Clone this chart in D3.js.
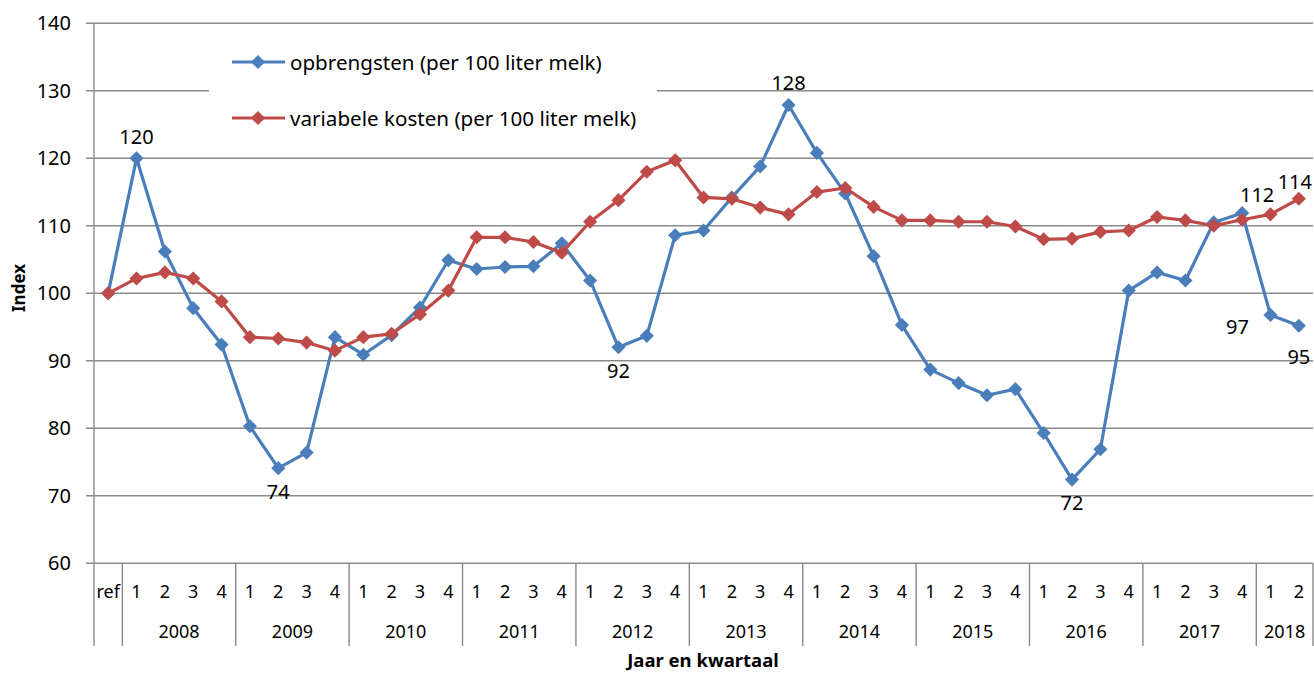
<!DOCTYPE html>
<html lang="nl">
<head>
<meta charset="utf-8">
<title>Opbrengsten en variabele kosten melk</title>
<script src="https://cdn.jsdelivr.net/npm/d3@7"></script>
<style>
  body { margin: 0; background: #fff; }
  svg text { font-family: "Noto Sans", "Open Sans", sans-serif; fill: #000; }
</style>
</head>
<body>
<script>
// ---- data ----
let years = ["2008", "2009", "2010", "2011", "2012", "2013", "2014", "2015", "2016", "2017", "2018"];
let quartersPerYear = [4, 4, 4, 4, 4, 4, 4, 4, 4, 4, 2];
let yTicks = [60, 70, 80, 90, 100, 110, 120, 130, 140];

let opbrengsten = [100,
  120, 106.2, 97.8, 92.4,
  80.3, 74.1, 76.4, 93.5,
  90.9, 93.8, 97.9, 104.9,
  103.6, 103.9, 104.0, 107.4,
  101.9, 92.0, 93.7, 108.6,
  109.3, 114.2, 118.8, 127.9,
  120.8, 114.8, 105.5, 95.3,
  88.7, 86.7, 84.9, 85.8,
  79.3, 72.4, 76.9, 100.4,
  103.1, 101.9, 110.5, 111.9,
  96.8, 95.2];

let kosten = [100,
  102.2, 103.1, 102.2, 98.8,
  93.5, 93.3, 92.7, 91.5,
  93.5, 94.0, 96.9, 100.4,
  108.3, 108.3, 107.6, 106.0,
  110.6, 113.8, 118.0, 119.7,
  114.2, 114.0, 112.7, 111.7,
  115.0, 115.6, 112.8, 110.8,
  110.8, 110.6, 110.6, 109.9,
  108.0, 108.1, 109.1, 109.3,
  111.3, 110.8, 110.0, 110.9,
  111.7, 114.0];

let seriesNames = ["opbrengsten (per 100 liter melk)", "variabele kosten (per 100 liter melk)"];
let seriesColors = ["#4a7ebb", "#be4b48"];

// value labels: series index, point index, where to put it
let valueLabels = [
  {s: 0, i: 1, text: "120", at: "above"},
  {s: 0, i: 6, text: "74", at: "below"},
  {s: 0, i: 18, text: "92", at: "below"},
  {s: 0, i: 24, text: "128", at: "above"},
  {s: 0, i: 34, text: "72", at: "below"},
  {s: 0, i: 40, text: "112", at: "aboveRight"},
  {s: 1, i: 42, text: "114", at: "aboveLeft"},
  {s: 0, i: 41, text: "97", at: "left"},
  {s: 0, i: 42, text: "95", at: "farBelow"}
];

// ---- layout ----
let W = 1314, H = 673;
let mLeft = 94, mRight = 1313, mTop = 23.3, mBottom = 563.3;

// category list: ref + quarters
let cats = [{q: "ref"}];
years.forEach((yr, k) => {
  for (let q = 1; q <= quartersPerYear[k]; q++) cats.push({q: String(q), year: yr});
});

let x = d3.scaleBand().domain(d3.range(cats.length)).range([mLeft, mRight]).padding(0);
let y = d3.scaleLinear().domain([60, 140]).range([mBottom, mTop]);
let cx = i => x(i) + x.bandwidth() / 2;

let svg = d3.select("body").append("svg")
  .attr("width", W).attr("height", H);

let gridColor = "#8a8a8a";

// horizontal gridlines
svg.append("g").selectAll("line")
  .data(yTicks)
  .enter().append("line")
  .attr("x1", mLeft - 8).attr("x2", mRight)
  .attr("y1", d => y(d)).attr("y2", d => y(d))
  .attr("stroke", gridColor).attr("stroke-width", 1.4);

// y axis labels
let yAxis = svg.append("g")
  .attr("transform", `translate(${mLeft},0)`)
  .call(d3.axisLeft(y).tickValues(yTicks).tickSize(0).tickPadding(23));
yAxis.select(".domain").remove();
yAxis.selectAll("text")
  .attr("font-size", "20px")
  .attr("font-family", "Noto Sans")
  .attr("fill", "#000");

// y axis line down to bottom of category area
let axisBottomY = 646;
svg.append("line")
  .attr("x1", mLeft).attr("x2", mLeft)
  .attr("y1", mTop).attr("y2", axisBottomY)
  .attr("stroke", gridColor).attr("stroke-width", 1.4);

// group separators (ref | 2008 | 2009 ...)
let bounds = [1];
let starts = [];
let pos = 1;
quartersPerYear.forEach(n => { starts.push(pos); pos += n; bounds.push(pos); });
svg.append("g").selectAll("line")
  .data(bounds)
  .enter().append("line")
  .attr("x1", d => d < cats.length ? x(d) : mRight)
  .attr("x2", d => d < cats.length ? x(d) : mRight)
  .attr("y1", mBottom).attr("y2", axisBottomY)
  .attr("stroke", gridColor).attr("stroke-width", 1.4);

// quarter labels
svg.append("g").selectAll("text")
  .data(cats)
  .enter().append("text")
  .attr("x", (d, i) => cx(i))
  .attr("y", 591)
  .attr("text-anchor", "middle")
  .attr("dominant-baseline", "central")
  .attr("font-size", "18px")
  .text(d => d.q);

// year labels
svg.append("g").selectAll("text")
  .data(years)
  .enter().append("text")
  .attr("x", (d, k) => (x(starts[k]) + (bounds[k + 1] < cats.length ? x(bounds[k + 1]) : mRight)) / 2)
  .attr("y", 631)
  .attr("text-anchor", "middle")
  .attr("dominant-baseline", "central")
  .attr("font-size", "18px")
  .text(d => d);

// axis titles
svg.append("text")
  .attr("x", 703).attr("y", 659)
  .attr("text-anchor", "middle")
  .attr("dominant-baseline", "central")
  .attr("font-size", "18.5px").attr("font-weight", "bold")
  .text("Jaar en kwartaal");

svg.append("text")
  .attr("transform", "translate(18,288) rotate(-90)")
  .attr("text-anchor", "middle")
  .attr("dominant-baseline", "central")
  .attr("font-size", "17px").attr("font-weight", "bold")
  .text("Index");

// legend (white box hides gridline)
let legend = svg.append("g");
legend.append("rect")
  .attr("x", 209).attr("y", 32).attr("width", 448).attr("height", 118)
  .attr("fill", "#fff");

let diamond = d3.symbol().type(d3.symbolSquare).size(100);

seriesNames.forEach((name, k) => {
  let ly = 62 + k * 56;
  legend.append("line")
    .attr("x1", 232).attr("x2", 285).attr("y1", ly).attr("y2", ly)
    .attr("stroke", seriesColors[k]).attr("stroke-width", 3);
  legend.append("path")
    .attr("d", diamond())
    .attr("transform", `translate(258,${ly}) rotate(45)`)
    .attr("fill", seriesColors[k]);
  legend.append("text")
    .attr("x", 290).attr("y", ly)
    .attr("dominant-baseline", "central")
    .attr("font-size", "20.6px")
    .text(name);
});

// series lines and markers
let line = d3.line().x((d, i) => cx(i)).y(d => y(d));
[opbrengsten, kosten].forEach((vals, k) => {
  let g = svg.append("g");
  g.append("path")
    .datum(vals)
    .attr("d", line)
    .attr("fill", "none")
    .attr("stroke", seriesColors[k])
    .attr("stroke-width", 3.2)
    .attr("stroke-linejoin", "round");
  g.selectAll("path.m")
    .data(vals)
    .enter().append("path")
    .attr("class", "m")
    .attr("d", diamond())
    .attr("transform", (d, i) => `translate(${cx(i)},${y(d)}) rotate(45)`)
    .attr("fill", seriesColors[k]);
});

// value labels
let offsets = {
  above: [0, -22],
  aboveLeft: [-4, -17],
  below: [0, 23],
  aboveRight: [15, -18],
  left: [-33, 12],
  farBelow: [0, 31]
};
let allSeries = [opbrengsten, kosten];
svg.append("g").selectAll("text")
  .data(valueLabels)
  .enter().append("text")
  .attr("x", d => cx(d.i) + offsets[d.at][0])
  .attr("y", d => y(allSeries[d.s][d.i]) + offsets[d.at][1])
  .attr("text-anchor", "middle")
  .attr("dominant-baseline", "central")
  .attr("font-size", "20px")
  .text(d => d.text);
</script>
</body>
</html>
